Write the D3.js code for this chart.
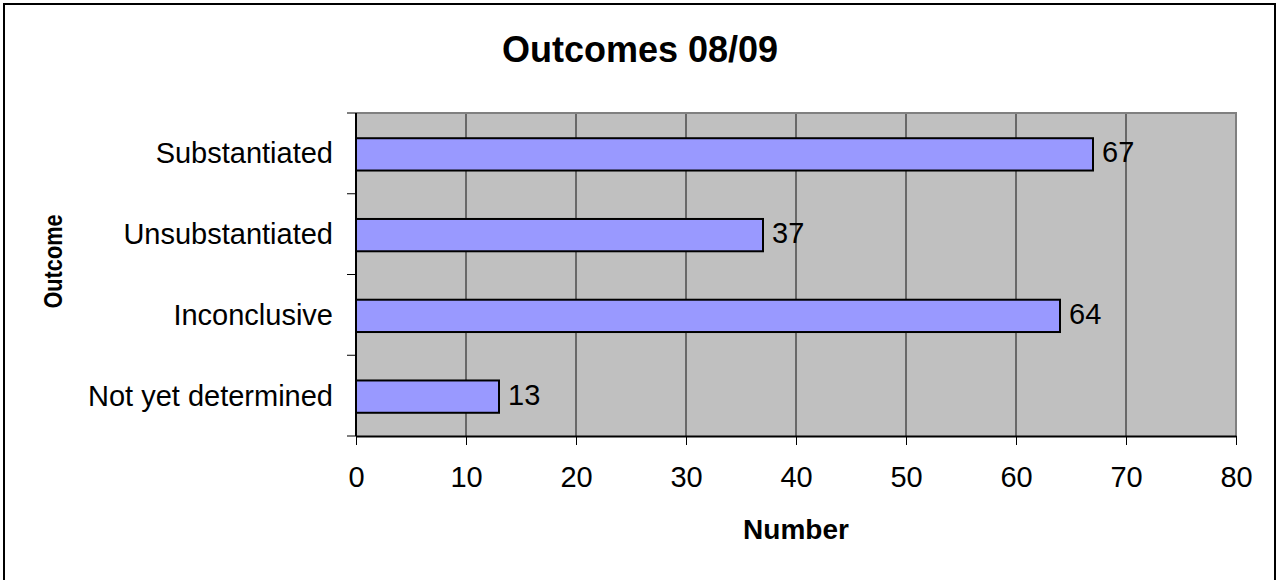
<!DOCTYPE html>
<html><head><meta charset="utf-8">
<script src="https://cdn.jsdelivr.net/npm/d3@7"></script>
<style>html,body{margin:0;padding:0;background:#fff;overflow:hidden}svg{display:block}text{font-family:"Liberation Sans",Arial,sans-serif;fill:#000}</style>
</head><body>
<script>
const categories = ["Substantiated","Unsubstantiated","Inconclusive","Not yet determined"];
const values = [67,37,64,13];
const xTicks = [0,10,20,30,40,50,60,70,80];
const title = "Outcomes 08/09";
const xTitle = "Number";
const yTitle = "Outcome";

const W=1278,H=580;
const svg=d3.select("body").append("svg").attr("width",W).attr("height",H);
svg.append("rect").attr("x",4).attr("y",4).attr("width",1271).attr("height",H).attr("fill","#fff").attr("stroke","#000").attr("stroke-width",2);

const L=356,R=1236,T=113,B=436;
const x=d3.scaleLinear().domain([0,80]).range([L,R]);
const y=d3.scaleBand().domain(categories).range([T,B]).paddingInner(0.6).paddingOuter(0.3);
const yb=d3.scaleBand().domain(categories).range([T,B]);

svg.append("rect").attr("x",L).attr("y",T).attr("width",R-L).attr("height",B-T).attr("fill","#C0C0C0");
// gridlines
svg.append("g").selectAll("line").data(xTicks.slice(1)).join("line")
  .attr("x1",d=>x(d)).attr("x2",d=>x(d)).attr("y1",T).attr("y2",B).attr("stroke","#111").attr("stroke-width",1);
// plot border top/right
svg.append("path").attr("d",`M${L},${T}H${R}V${B}`).attr("fill","none").attr("stroke","#808080").attr("stroke-width",2);

// bars
svg.append("g").selectAll("rect").data(values).join("rect")
  .attr("x",x(0)).attr("y",(d,i)=>y(categories[i])+1).attr("width",d=>x(d)-x(0)).attr("height",y.bandwidth())
  .attr("fill","#9999FF").attr("stroke","#000").attr("stroke-width",2);
svg.append("g").selectAll("text").data(values).join("text")
  .attr("x",d=>x(d)+9).attr("y",(d,i)=>y(categories[i])+1+y.bandwidth()/2+8)
  .attr("font-size",29).text(d=>d);

// x axis
const xa=svg.append("g").attr("transform",`translate(0,${B})`).call(d3.axisBottom(x).tickValues(xTicks).tickSize(9).tickPadding(21).tickSizeOuter(0));
xa.select(".domain").attr("stroke","#000").attr("stroke-width",2);
xa.selectAll(".tick line").attr("stroke","#000").attr("stroke-width",1);
xa.selectAll(".tick text").attr("font-size",29).attr("font-family","Liberation Sans, Arial, sans-serif").attr("fill","#000");

// y axis
svg.append("line").attr("x1",L).attr("x2",L).attr("y1",T).attr("y2",B).attr("stroke","#000").attr("stroke-width",2);
const bounds=categories.map(c=>yb(c)).concat([B]);
svg.append("g").selectAll("line").data(bounds).join("line")
  .attr("x1",L-9).attr("x2",L).attr("y1",d=>d).attr("y2",d=>d).attr("stroke","#000").attr("stroke-width",1);
svg.append("g").selectAll("text").data(categories).join("text")
  .attr("x",333).attr("y",d=>yb(d)+yb.bandwidth()/2+10).attr("text-anchor","end").attr("font-size",29).text(d=>d);

svg.append("text").attr("x",640).attr("y",62).attr("text-anchor","middle").attr("font-size",36).attr("font-weight","bold").text(title);
svg.append("text").attr("x",796).attr("y",539).attr("text-anchor","middle").attr("font-size",28).attr("font-weight","bold").text(xTitle);
svg.append("text").attr("transform","translate(62,261.5) rotate(-90)").attr("text-anchor","middle").attr("font-size",26).attr("font-weight","bold")
  .attr("textLength",94).attr("lengthAdjust","spacingAndGlyphs").text(yTitle);
</script>
</body></html>
